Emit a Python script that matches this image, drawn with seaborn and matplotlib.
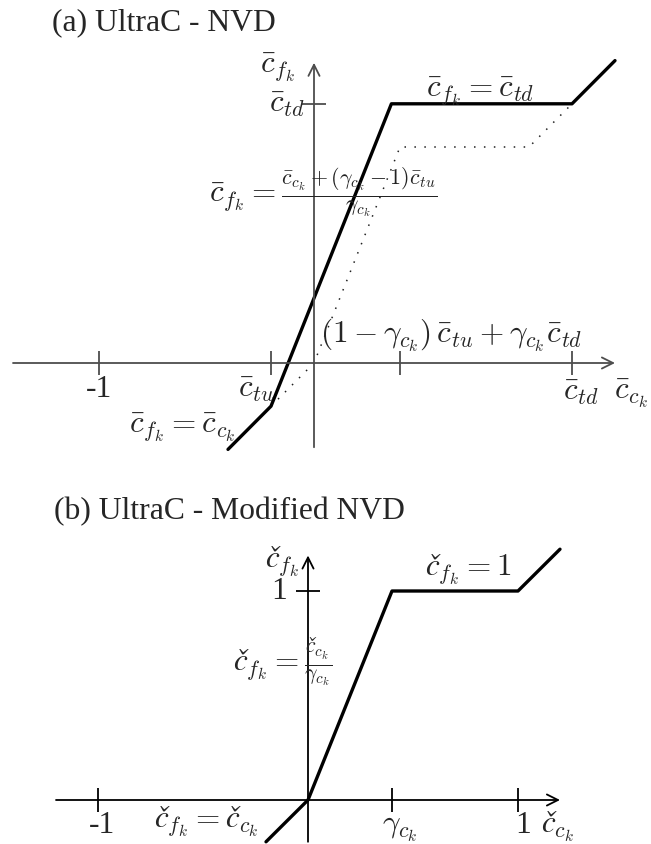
import matplotlib
matplotlib.use('Agg')
import matplotlib.pyplot as plt
import seaborn as sns

# values are in the normalised units of each sketch (c_td = 1.2, gamma = 0.4)
c_tu = -0.2
c_td = 1.2
gamma_a = 0.4

# panel (a): UltraC in NVD form (solid) and the plain UltraC for reference (dotted)
ultra_x = [-0.4, -0.2, 0.36, 1.2, 1.4]
ultra_y = [-0.4, -0.2, 1.2, 1.2, 1.4]
plain_x = [-0.2, 0.0, 0.4, 1.0, 1.2]
plain_y = [-0.2, 0.0, 1.0, 1.0, 1.2]
xticks_a = [-1.0, c_tu, gamma_a, c_td]
yticks_a = [c_td]
xaxis_a = [-1.4, 1.4]
yaxis_a = [-0.39, 1.39]

# panel (b): modified NVD
gamma_b = 0.4
mod_x = [-0.2, 0.0, 0.4, 1.0, 1.2]
mod_y = [-0.2, 0.0, 1.0, 1.0, 1.2]
xticks_b = [-1.0, gamma_b, 1.0]
yticks_b = [1.0]
xaxis_b = [-1.2, 1.2]
yaxis_b = [-0.2, 1.17]

sns.set_theme(style='white')
plt.rcParams['mathtext.fontset'] = 'cm'
plt.rcParams['font.family'] = ['Liberation Serif', 'DejaVu Serif']

W, H = 651, 845
fig = plt.figure(figsize=(W / 100, H / 100), dpi=100)

MS = 22.5    # math label size
TS = 22.8    # text size


def draw_axes(ax, xr, yr, xticks, yticks, color, tick_len):
    arrow = dict(arrowstyle='->', lw=1.3, color=color, shrinkA=0, shrinkB=0,
                 mutation_scale=20)
    ax.annotate('', xy=(xr[1], 0), xytext=(xr[0], 0), arrowprops=arrow)
    ax.annotate('', xy=(0, yr[1]), xytext=(0, yr[0]), arrowprops=arrow)
    ax.vlines(xticks, -tick_len, tick_len, color=color, lw=1.3)
    ax.hlines(yticks, -tick_len, tick_len, color=color, lw=1.3)


# ---- panel (a)
ax = fig.add_axes([0, (H - 455) / H, 1, (455 - 40) / H])
ax.set_xlim((0 - 314) / 215, (W - 314) / 215)
ax.set_ylim((364 - 455) / 216, (364 - 40) / 216)
ax.set_axis_off()
draw_axes(ax, xaxis_a, yaxis_a, xticks_a, yticks_a, '#4d4d4d', 0.056)
sns.lineplot(x=plain_x, y=plain_y, ax=ax, color='#222222', lw=1.1,
             linestyle=(0, (1, 5.5)), sort=False, estimator=None)
sns.lineplot(x=ultra_x, y=ultra_y, ax=ax, color='black', lw=2.4,
             sort=False, estimator=None)

ax.text(-0.167, 1.37, r'$\bar{c}_{f_k}$', fontsize=MS, ha='center', va='center')
ax.text(-0.126, c_td, r'$\bar{c}_{td}$', fontsize=MS, ha='center', va='center')
ax.text(0.772, 1.26, r'$\bar{c}_{f_k}=\bar{c}_{td}$', fontsize=MS, ha='center', va='center')
ax.text(0.044, 0.79,
        r'$\bar{c}_{f_k}=\frac{\bar{c}_{c_k}+(\gamma_{c_k}-1)\bar{c}_{tu}}{\gamma_{c_k}}$',
        fontsize=MS, ha='center', va='center', color='#222222')
ax.text(0.637, 0.134, r'$(1-\gamma_{c_k})\,\bar{c}_{tu}+\gamma_{c_k}\bar{c}_{td}$',
        fontsize=MS, ha='center', va='center')
ax.text(-1.0, -0.12, '-1', fontsize=TS, ha='center', va='center')
ax.text(c_tu - 0.07, -0.12, r'$\bar{c}_{tu}$', fontsize=MS, ha='center', va='center')
ax.text(c_td + 0.042, -0.13, r'$\bar{c}_{td}$', fontsize=MS, ha='center', va='center')
ax.text(1.475, -0.14, r'$\bar{c}_{c_k}$', fontsize=MS, ha='center', va='center')
ax.text(-0.614, -0.296, r'$\bar{c}_{f_k}=\bar{c}_{c_k}$', fontsize=MS, ha='center', va='center')

# ---- panel (b)
# \check is misplaced by mathtext, so the precomposed letter is used instead
bx = fig.add_axes([0, 0, 1, (H - 535) / H])
bx.set_xlim((0 - 308) / 210, (W - 308) / 210)
bx.set_ylim((801 - H) / 209, (801 - 535) / 209)
bx.set_axis_off()
draw_axes(bx, xaxis_b, yaxis_b, xticks_b, yticks_b, 'black', 0.057)
sns.lineplot(x=mod_x, y=mod_y, ax=bx, color='black', lw=2.4,
             sort=False, estimator=None)

bx.text(-0.124, 1.144, r'$č_{f_k}$', fontsize=MS, ha='center', va='center')
bx.text(-0.138, 1.0, '1', fontsize=TS, ha='center', va='center')
bx.text(0.762, 1.105, r'$č_{f_k}=1$', fontsize=MS, ha='center', va='center')
bx.text(-0.119, 0.66, r'$č_{f_k}=\frac{č_{c_k}}{\gamma_{c_k}}$',
        fontsize=MS, ha='center', va='center')
bx.text(-0.98, -0.115, '-1', fontsize=TS, ha='center', va='center')
bx.text(-0.486, -0.10, r'$č_{f_k}=č_{c_k}$', fontsize=MS, ha='center', va='center')
bx.text(gamma_b + 0.038, -0.138, r'$\gamma_{c_k}$', fontsize=MS, ha='center', va='center')
bx.text(1.024, -0.115, '1', fontsize=TS, ha='center', va='center')
bx.text(1.19, -0.122, r'$č_{c_k}$', fontsize=MS, ha='center', va='center')

fig.text(52 / W, (H - 23) / H, '(a) UltraC - NVD', fontsize=TS, ha='left', va='center')
fig.text(54 / W, (H - 512) / H, '(b) UltraC - Modified NVD', fontsize=TS, ha='left', va='center')

fig.savefig('out.png', dpi=100)
